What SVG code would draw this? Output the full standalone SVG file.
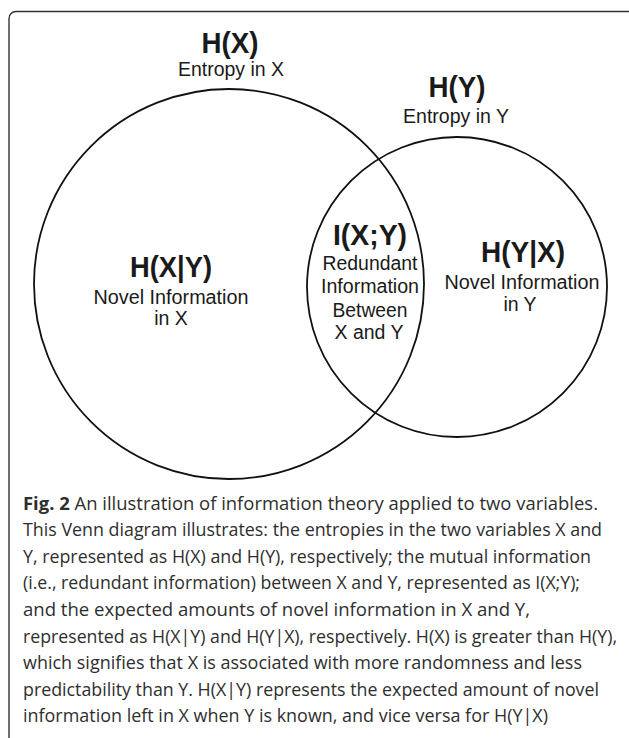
<svg xmlns="http://www.w3.org/2000/svg" width="629" height="738" viewBox="0 0 629 738">
  <style>
    .frame { fill: none; stroke: #333; stroke-width: 1.4; }
    .set { fill: none; stroke: #111; stroke-width: 1.8; }
    .big { font-family: "Liberation Sans", Arial, sans-serif; font-weight: bold; font-size: 29px; fill: #1a1a1a; text-anchor: middle; }
    .lbl { font-family: "Liberation Sans", Arial, sans-serif; font-size: 19.5px; fill: #1a1a1a; text-anchor: middle; }
    .cap { font-family: "Open Sans", "Liberation Sans", sans-serif; font-size: 17.3px; fill: #2e2e2e; }
    .capb { font-weight: bold; }
  </style>
  <rect width="629" height="738" fill="#ffffff"/>
  <rect class="frame" x="9" y="11.5" width="632" height="733" rx="7" ry="7"/>

  <g id="set-x">
    <circle class="set" cx="229" cy="284" r="195"/>
    <text class="big" x="230" y="53" textLength="57" lengthAdjust="spacingAndGlyphs">H(X)</text>
    <text class="lbl" x="231" y="76" textLength="106" lengthAdjust="spacingAndGlyphs">Entropy in X</text>
  </g>

  <g id="set-y">
    <circle class="set" cx="457" cy="287" r="150"/>
    <text class="big" x="457" y="97" textLength="57" lengthAdjust="spacingAndGlyphs">H(Y)</text>
    <text class="lbl" x="456" y="123" textLength="106" lengthAdjust="spacingAndGlyphs">Entropy in Y</text>
  </g>

  <g id="region-hxy">
    <text class="big" x="171" y="277" textLength="82" lengthAdjust="spacingAndGlyphs">H(X|Y)</text>
    <text class="lbl" x="171" y="304" textLength="155" lengthAdjust="spacingAndGlyphs">Novel Information</text>
    <text class="lbl" x="171" y="325">in X</text>
  </g>

  <g id="region-ixy">
    <text class="big" x="370" y="245" textLength="74" lengthAdjust="spacingAndGlyphs">I(X;Y)</text>
    <text class="lbl" x="370" y="270" textLength="95" lengthAdjust="spacingAndGlyphs">Redundant</text>
    <text class="lbl" x="370" y="293" textLength="98" lengthAdjust="spacingAndGlyphs">Information</text>
    <text class="lbl" x="370" y="317" textLength="75" lengthAdjust="spacingAndGlyphs">Between</text>
    <text class="lbl" x="369" y="339" textLength="69" lengthAdjust="spacingAndGlyphs">X and Y</text>
  </g>

  <g id="region-hyx">
    <text class="big" x="523" y="262" textLength="84" lengthAdjust="spacingAndGlyphs">H(Y|X)</text>
    <text class="lbl" x="522" y="289" textLength="155" lengthAdjust="spacingAndGlyphs">Novel Information</text>
    <text class="lbl" x="520" y="311">in Y</text>
  </g>

  <g id="caption">
    <text class="cap" x="23" y="509.5" textLength="575" lengthAdjust="spacingAndGlyphs"><tspan class="capb">Fig. 2</tspan> An illustration of information theory applied to two variables.</text>
    <text class="cap" x="23" y="536.1" textLength="579" lengthAdjust="spacingAndGlyphs">This Venn diagram illustrates: the entropies in the two variables X and</text>
    <text class="cap" x="23" y="562.7" textLength="568" lengthAdjust="spacingAndGlyphs">Y, represented as H(X) and H(Y), respectively; the mutual information</text>
    <text class="cap" x="23" y="589.3" textLength="557" lengthAdjust="spacingAndGlyphs">(i.e., redundant information) between X and Y, represented as I(X;Y);</text>
    <text class="cap" x="23" y="615.9" textLength="507" lengthAdjust="spacingAndGlyphs">and the expected amounts of novel information in X and Y,</text>
    <text class="cap" x="23" y="642.5" textLength="594" lengthAdjust="spacingAndGlyphs">represented as H(X|Y) and H(Y|X), respectively. H(X) is greater than H(Y),</text>
    <text class="cap" x="23" y="669.1" textLength="559" lengthAdjust="spacingAndGlyphs">which signifies that X is associated with more randomness and less</text>
    <text class="cap" x="23" y="695.7" textLength="576" lengthAdjust="spacingAndGlyphs">predictability than Y. H(X|Y) represents the expected amount of novel</text>
    <text class="cap" x="23" y="722.3" textLength="525" lengthAdjust="spacingAndGlyphs">information left in X when Y is known, and vice versa for H(Y|X)</text>
  </g>
</svg>
